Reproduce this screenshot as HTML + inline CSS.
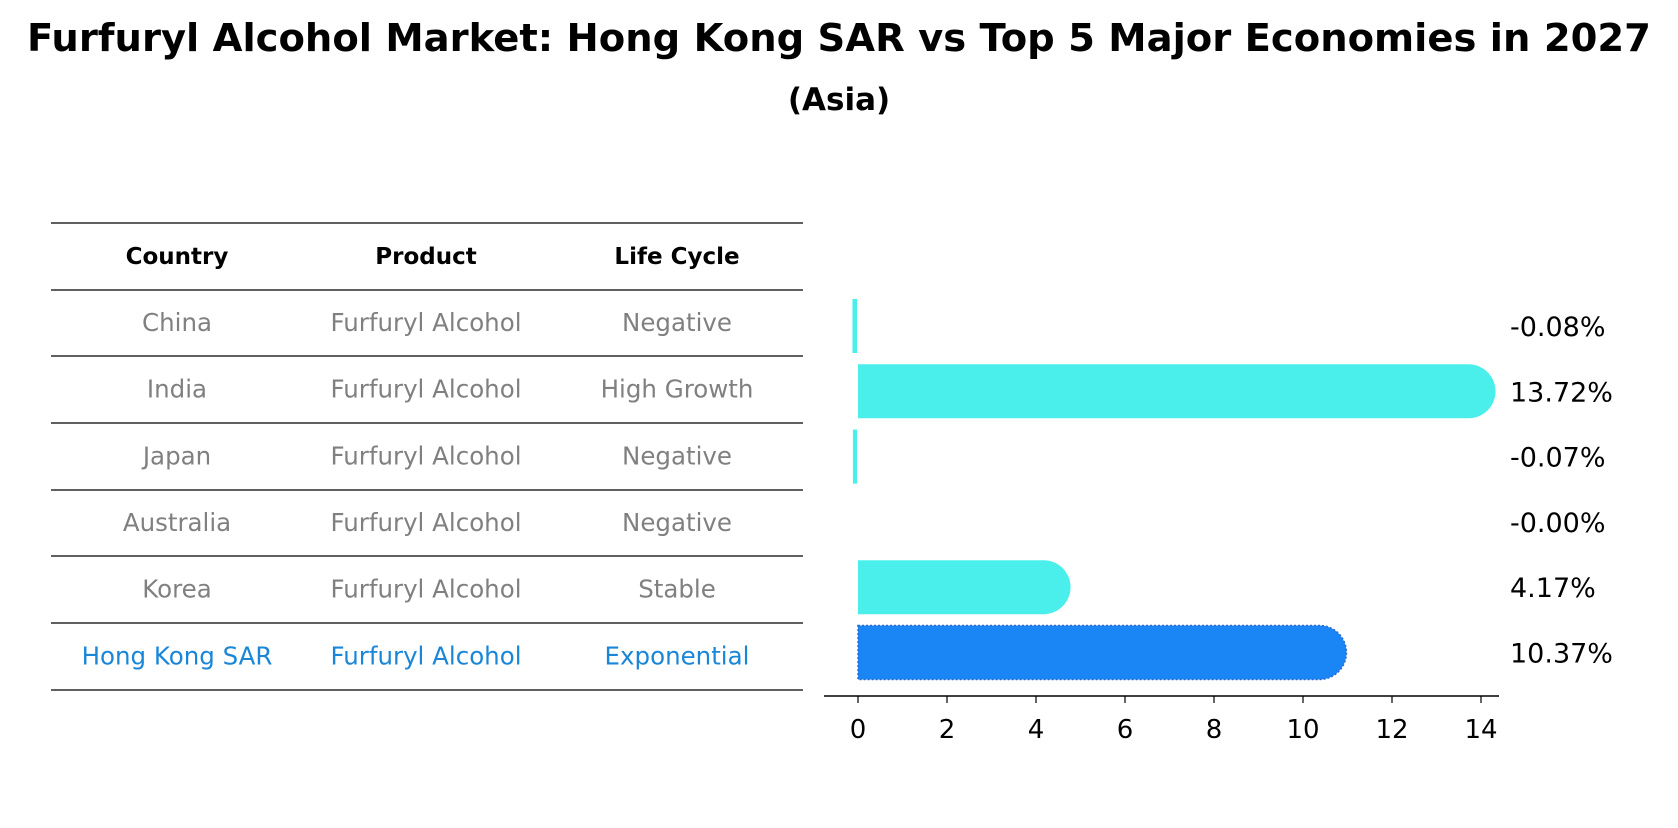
<!DOCTYPE html>
<html><head><meta charset="utf-8"><style>
body{margin:0;background:#fff;}
svg text{font-family:"DejaVu Sans","Liberation Sans",sans-serif;}
</style></head><body>
<svg width="1678" height="823" xmlns="http://www.w3.org/2000/svg">
<text x="839" y="51" text-anchor="middle" font-size="38.5" font-weight="bold">Furfuryl Alcohol Market: Hong Kong SAR vs Top 5 Major Economies in 2027</text>
<text x="839" y="110" text-anchor="middle" font-size="31" font-weight="bold">(Asia)</text>
<g id="table"></g>
<g id="bars"></g>
</svg>
<script>
const countries=["China","India","Japan","Australia","Korea","Hong Kong SAR"];
const products=["Furfuryl Alcohol","Furfuryl Alcohol","Furfuryl Alcohol","Furfuryl Alcohol","Furfuryl Alcohol","Furfuryl Alcohol"];
const lifeCycles=["Negative","High Growth","Negative","Negative","Stable","Exponential"];
const values=[-0.08,13.72,-0.07,-0.00,4.17,10.37];
const valueLabels=["-0.08%","13.72%","-0.07%","-0.00%","4.17%","10.37%"];
const ticks=[0,2,4,6,8,10,12,14];
const NS="http://www.w3.org/2000/svg";
function mk(t,a,p){const e=document.createElementNS(NS,t);for(const k in a)e.setAttribute(k,a[k]);p.appendChild(e);return e;}
const x=v=>858+v*44.5;
const rowY=i=>326+i*65.3;
const tb=document.getElementById('table');
const lines=[223,290,356,423,490,556,623,690];
lines.forEach((ly,i)=>{const l=mk('line',{x1:51,x2:803,y1:ly,y2:ly,stroke:'#000','stroke-width':1.2},tb);

});
const cx=[177,426,677];
["Country","Product","Life Cycle"].forEach((h,j)=>{const t=mk('text',{x:cx[j],y:264,'text-anchor':'middle','font-size':23,'font-weight':'bold'},tb);t.textContent=h;

});
countries.forEach((c,i)=>{const cy=(lines[i+1]+lines[i+2])/2+8;const col=i===5?'#1a86d8':'#808080';
[c,products[i],lifeCycles[i]].forEach((s,j)=>{const t=mk('text',{x:cx[j],y:cy,'text-anchor':'middle','font-size':24.5,fill:col},tb);t.textContent=s;

});});
const g=document.getElementById('bars');
const bh=54,r=27;
values.forEach((v,i)=>{const cy=rowY(i);const hk=i===5;const fill=hk?'#1a86f5':'#4aefec';
let el;
if(v>0.5){const x0=x(0),x1=x(v);
el=mk('path',{d:`M${x0},${cy-bh/2} H${x1} A${r},${r} 0 0 1 ${x1},${cy+bh/2} H${x0} Z`,fill:fill},g);
if(hk){el.setAttribute('stroke','#2a6ad0');el.setAttribute('stroke-width',1.5);el.setAttribute('stroke-dasharray','2,2');}
}else if(v<-0.01){el=mk('rect',{x:x(v)-2,y:cy-bh/2,width:Math.max(3,x(0)-x(v)+1),height:bh,fill:fill},g);}
else{el=mk('rect',{x:x(0),y:cy-bh/2,width:0,height:bh,fill:fill},g);}


const t=mk('text',{x:1510,y:cy+10,'font-size':27},g);t.textContent=valueLabels[i];

});
const ax=mk('line',{x1:824,x2:1499,y1:696,y2:696,stroke:'#000','stroke-width':1.5},g);


ticks.forEach(tv=>{const tk=mk('line',{x1:x(tv),x2:x(tv),y1:696,y2:703,stroke:'#000','stroke-width':1.2},g);


const t=mk('text',{x:x(tv),y:738,'text-anchor':'middle','font-size':26},g);t.textContent=tv;

});
</script>
</body></html>
